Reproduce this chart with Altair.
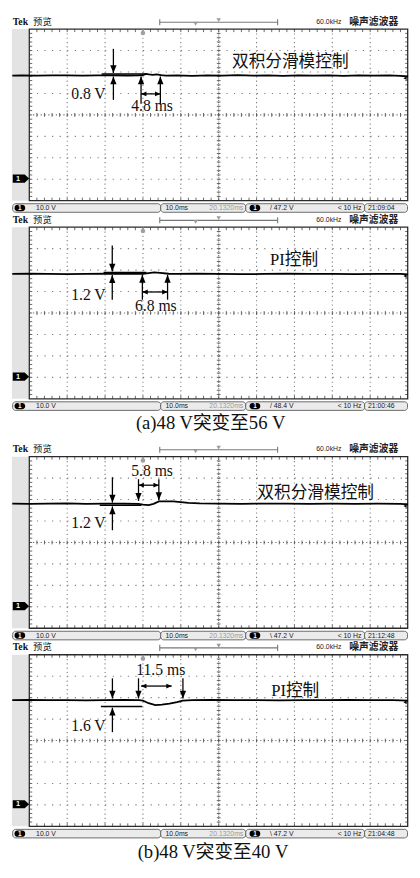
import altair as alt
import pandas as pd

# ================= values =================
# Every scope screen: 10 ms/div time base (trigger at 0 ms),
# 10 V/div with the channel-1 ground marker at 0 V.
T_LEFT, T_RIGHT = -30.0, 70.0
V_BOTTOM, V_TOP = -10.0, 70.0
GRID_T = [-20, -10, 0, 10, 30, 40, 50, 60]
CENTER_T = 20
GRID_V = [0, 10, 20, 40, 50, 60]
CENTER_V = 30

# output-voltage traces (ms, V)
P1_T = [-34.5, -32, -28, -24, -20, -16, -12, -8, -4, -1, 0, 0.8, 1.6, 2.6, 3.6, 4.8, 6, 9, 13, 17,
        21, 25, 29, 33, 37, 41, 45, 49, 53, 57, 61, 65, 68, 70]
P1_V = [48.3, 48.4, 48.3, 48.4, 48.4, 48.3, 48.4, 48.4, 48.3, 48.4, 48.5, 49.1, 48.9, 48.7, 48.9, 48.5,
        48.3, 48.4, 48.2, 48.4, 48.3, 48.5, 48.3, 48.4, 48.2, 48.4, 48.3, 48.4, 48.2, 48.4, 48.3, 48.4,
        48.2, 47.9]
P2_T = [-34.5, -30, -25, -20, -15, -10, -5, -1, 0, 1.5, 3, 4.5, 6.8, 9, 14, 20, 26, 32, 38, 44,
        50, 56, 62, 68, 70]
P2_V = [48.2, 48.3, 48.2, 48.1, 48.2, 48.3, 48.2, 48.2, 48.3, 48.6, 48.9, 48.7, 48.3, 48.2, 48.3,
        48.2, 48.1, 48.2, 48.3, 48.2, 48.2, 48.1, 48.2, 48.2, 48.0]
P3_T = [-34.5, -30, -25, -20, -15, -10, -5, -1.2, 0, 1.5, 2.8, 4.2, 6, 8, 10, 12, 15, 20, 26, 32,
        38, 44, 50, 56, 62, 68, 70]
P3_V = [48.1, 48.0, 48.1, 48.2, 48.0, 48.1, 48.1, 48.0, 47.6, 47.4, 48.0, 49.1, 49.2, 49.1, 48.8,
        48.4, 48.2, 48.1, 48.0, 48.1, 48.1, 48.0, 48.1, 48.0, 48.1, 48.0, 47.8]
P4_T = [-34.5, -30, -25, -20, -15, -10, -5, -1, 0, 1.5, 3.3, 5, 7, 9, 10.5, 13, 18, 24, 30, 36,
        42, 48, 54, 60, 66, 70]
P4_V = [48.8, 48.9, 48.8, 48.8, 48.7, 48.8, 48.9, 48.8, 48.6, 47.4, 46.5, 46.7, 47.2, 47.9, 48.6,
        48.8, 48.9, 48.8, 48.8, 48.7, 48.8, 48.8, 48.9, 48.8, 48.8, 48.6]
TRACES_T = [P1_T, P2_T, P3_T, P4_T]
TRACES_V = [P1_V, P2_V, P3_V, P4_V]

CONTROL_NAMES = ["双积分滑模控制", "PI控制", "双积分滑模控制", "PI控制"]
NAME_T = [38.9, 39.9, 45.6, 40.2]
NAME_V = [54.4, 54.6, 53.0, 53.1]

DV_TEXT = ["0.8 V", "1.2 V", "1.2 V", "1.6 V"]
DV_T = [-14.4, -14.4, -14.4, -14.4]
DV_V = [39.8, 38.4, 38.9, 36.6]

DT_TEXT = ["4.8 ms", "6.8 ms", "5.8 ms", "11.5 ms"]
DT_T = [2.4, 3.4, 2.4, 4.7]
DT_V = [33.9, 33.4, 63.1, 62.7]

# short level marks (extreme of the transient)
REF_T1 = [-10.9, -10.4, -11.4, -11.1]
REF_T2 = [0.8, 0.9, -0.4, -0.2]
REF_V = [49.1, 48.9, 47.3, 45.9]

# vertical arrows: (panel, time, tail voltage, tip voltage)
V_ARROWS = [
    (0, -7.8, 60.8, 49.5), (0, -7.8, 37.0, 47.9), (0, -0.5, 35.2, 47.9), (0, 4.6, 35.2, 47.9),
    (1, -8.1, 61.5, 49.3), (1, -8.1, 36.2, 47.7), (1, -0.15, 36.2, 47.8), (1, 6.5, 36.2, 47.8),
    (2, -8.06, 60.4, 48.6), (2, -8.06, 35.7, 46.8), (2, -1.17, 59.5, 49.4), (2, 4.2, 59.5, 49.7),
    (3, -8.06, 59.0, 49.6), (3, -8.06, 33.9, 45.3), (3, -1.17, 59.0, 49.6), (3, 10.56, 59.0, 49.6),
]
# double-headed time arrows: (panel, start, end, voltage)
H_ARROWS = [(0, -0.5, 4.6, 39.8), (1, -0.15, 6.5, 39.8), (2, -1.17, 4.2, 56.7), (3, -0.5, 7.6, 55.4)]

VOLTS_DIV = ["10.0 V"] * 4
TIME_DIV = ["10.0ms"] * 4
H_POS = ["20.1320ms"] * 4
TRIGGER = ["/ 47.2 V", "/ 48.4 V", "\\ 47.2 V", "\\ 47.2 V"]
TRIG_FREQ = ["< 10 Hz"] * 4
CLOCK = ["21:09:04", "21:00:46", "21:12:48", "21:04:48"]
CAPTIONS = [None, "(a)48 V突变至56 V", None, "(b)48 V突变至40 V"]
CAPTION_T = [None, 17.9, None, 18.5]
CAPTION_V = [None, -21.4, None, -21.9]

# ================= layout =================
W = 404                     # whole chart width in px
TOTAL_H = 862               # whole chart height in px
X_DOM = [-34.59, 70.0]      # ms spanned by the picture width
REF_PX_PER_V = 2.1875
PANEL_TOP_V = [75.93, 76.4, 76.4, 76.4]
PANEL_SPAN = [201, 234, 202, 225]          # panel spans in reference pixels
KY = TOTAL_H / sum(PANEL_SPAN)

DOWN_HEAD = "M-0.4,-1L0.4,-1L0,0Z"
UP_HEAD = "M-0.4,1L0.4,1L0,0Z"
LEFT_HEAD = "M1,-0.45L1,0.45L0,0Z"
RIGHT_HEAD = "M-1,-0.45L-1,0.45L0,0Z"
GROUND = "M-1,-0.5L0.45,-0.5L1,0L0.45,0.5L-1,0.5Z"

SERIF = "Liberation Serif, Noto Sans CJK SC"
SANS = "Liberation Sans"
CJK = "Noto Sans CJK SC"


def panel(i):
    span = PANEL_SPAN[i]
    top = PANEL_TOP_V[i]
    xs = alt.Scale(domain=X_DOM, nice=False, zero=False)
    ys = alt.Scale(domain=[top - span / REF_PX_PER_V, top], nice=False, zero=False)

    def X(f):
        return alt.X(f, type="quantitative", scale=xs, axis=None)

    def Y(f):
        return alt.Y(f, type="quantitative", scale=ys, axis=None)

    def rect(rows, **kw):
        return alt.Chart(pd.DataFrame(rows)).mark_rect(**kw).encode(
            x=X("t"), x2=alt.X2("t2"), y=Y("v"), y2=alt.Y2("v2"))

    def rule(rows, **kw):
        return alt.Chart(pd.DataFrame(rows)).mark_rule(**kw).encode(
            x=X("t"), x2=alt.X2("t2"), y=Y("v"), y2=alt.Y2("v2"))

    def text(rows, **kw):
        return alt.Chart(pd.DataFrame(rows)).mark_text(**kw).encode(
            x=X("t"), y=Y("v"), text=alt.Text("s:N"))

    def pts(rows, **kw):
        return alt.Chart(pd.DataFrame(rows)).mark_point(
            filled=True, opacity=1, strokeWidth=0, **kw).encode(x=X("t"), y=Y("v"))

    L = []
    # left gray strip and graticule
    L.append(rect([dict(t=X_DOM[0], t2=T_LEFT, v=V_BOTTOM, v2=V_TOP)], color="#e3e3e3"))
    L.append(rule([dict(t=T_LEFT, t2=T_RIGHT, v=v, v2=v) for v in GRID_V],
                  color="#7c7c7c", strokeWidth=1.1, strokeDash=[1.2, 6.53]))
    L.append(rule([dict(t=t, t2=t, v=V_TOP, v2=V_BOTTOM) for t in GRID_T],
                  color="#7c7c7c", strokeWidth=1.1, strokeDash=[1.2, 3.175]))
    L.append(rule([dict(t=CENTER_T, t2=CENTER_T, v=V_TOP, v2=V_BOTTOM)],
                  color="#707070", strokeWidth=1.1, strokeDash=[1.1, 1.09]))
    L.append(rule([dict(t=T_LEFT, t2=T_RIGHT, v=CENTER_V, v2=CENTER_V)],
                  color="#707070", strokeWidth=1.1, strokeDash=[1.2, 2.66]))
    ticks = []
    for k in range(1, 50):
        t = T_LEFT + 2 * k
        ticks.append(dict(t=t, t2=t, v=V_TOP, v2=V_TOP - 1.4))
        ticks.append(dict(t=t, t2=t, v=V_BOTTOM, v2=V_BOTTOM + 1.4))
        ticks.append(dict(t=t, t2=t, v=CENTER_V - 0.9, v2=CENTER_V + 0.9))
    for k in range(1, 40):
        v = V_BOTTOM + 2 * k
        ticks.append(dict(t=T_LEFT, t2=T_LEFT + 0.77, v=v, v2=v))
        ticks.append(dict(t=T_RIGHT - 0.77, t2=T_RIGHT, v=v, v2=v))
        ticks.append(dict(t=CENTER_T - 0.5, t2=CENTER_T + 0.5, v=v, v2=v))
    L.append(rule(ticks, color="#555555", strokeWidth=0.9))
    L.append(rect([dict(t=T_LEFT, t2=T_RIGHT - 0.1, v=V_BOTTOM, v2=V_TOP)],
                  fillOpacity=0, stroke="#2a2a2a", strokeWidth=1.3))

    # trigger position pin and ground marker
    L.append(rule([dict(t=0, t2=0, v=V_TOP, v2=68.4)], color="#9a9a9a", strokeWidth=1.5))
    L.append(pts([dict(t=0, v=68.2)], color="#a0a0a0", size=22, shape="circle"))
    L.append(pts([dict(t=-32.2, v=0.3)], color="black", size=280, shape=GROUND))
    L.append(text([dict(t=-33.0, v=0.3, s="1")], color="white", fontSize=7.5, fontWeight="bold",
                  font=SANS, align="center", baseline="middle"))

    # trace
    tr = pd.DataFrame({"t": TRACES_T[i], "v": TRACES_V[i]})
    L.append(alt.Chart(tr).mark_line(color="black", strokeWidth=1.8).encode(x=X("t"), y=Y("v")))
    L.append(pts([dict(t=69.2, v=TRACES_V[i][-1] - 0.8)], color="black", size=14, shape="triangle-left"))

    # annotations
    L.append(rule([dict(t=REF_T1[i], t2=REF_T2[i], v=REF_V[i], v2=REF_V[i])],
                  color="black", strokeWidth=1.5))
    va = [a for a in V_ARROWS if a[0] == i]
    L.append(rule([dict(t=a[1], t2=a[1], v=a[2], v2=a[3]) for a in va], color="black", strokeWidth=1.3))
    downs = [dict(t=a[1], v=a[3]) for a in va if a[2] > a[3]]
    ups = [dict(t=a[1], v=a[3]) for a in va if a[2] < a[3]]
    if downs:
        L.append(pts(downs, color="black", size=256, shape=DOWN_HEAD))
    if ups:
        L.append(pts(ups, color="black", size=256, shape=UP_HEAD))
    ha = [a for a in H_ARROWS if a[0] == i]
    L.append(rule([dict(t=a[1], t2=a[2], v=a[3], v2=a[3]) for a in ha], color="black", strokeWidth=1.3))
    L.append(pts([dict(t=a[1], v=a[3]) for a in ha], color="black", size=121, shape=LEFT_HEAD))
    L.append(pts([dict(t=a[2], v=a[3]) for a in ha], color="black", size=121, shape=RIGHT_HEAD))

    L.append(text([dict(t=NAME_T[i], v=NAME_V[i], s=CONTROL_NAMES[i])], font=SERIF, fontSize=17,
                  color="#111111", align="center", baseline="middle"))
    L.append(text([dict(t=DV_T[i], v=DV_V[i], s=DV_TEXT[i]), dict(t=DT_T[i], v=DT_V[i], s=DT_TEXT[i])],
                  font=SERIF, fontSize=16, color="#111111", align="center", baseline="middle"))

    # header row
    HV = 73.45
    L.append(text([dict(t=-34.4, v=HV, s="Tek")], font=SERIF, fontWeight="bold", fontSize=10,
                  align="left", baseline="middle", color="#111111"))
    L.append(text([dict(t=-29.0, v=HV, s="预览")], font=CJK, fontSize=9.5,
                  align="left", baseline="middle", color="#222222"))
    L.append(text([dict(t=45.77, v=HV, s="60.0kHz")], font=SANS, fontSize=7,
                  align="left", baseline="middle", color="#222222"))
    L.append(text([dict(t=60.94, v=HV, s="噪声滤波器")], font=CJK, fontSize=10, fontWeight="bold",
                  align="center", baseline="middle", color="#222222"))
    L.append(rule([dict(t=4.44, t2=35.56, v=73.2, v2=73.2),
                   dict(t=4.44, t2=4.44, v=74.6, v2=71.8),
                   dict(t=35.56, t2=35.56, v=74.6, v2=71.8)], color="#777777", strokeWidth=1.1))
    L.append(pts([dict(t=13.9, v=72.5), dict(t=20.0, v=74.2)], color="#9a9a9a", size=20,
                 shape="triangle-down"))

    # status bar
    SV = -13.4
    seg = [(-34.4, 4.69), (4.69, 27.14), (27.14, 58.52), (58.52, 69.85)]
    L.append(rect([dict(t=a, t2=b, v=-11.4, v2=-15.4) for a, b in seg], fill="#ebebeb",
                  stroke="#5a5a5a", strokeWidth=0.9, cornerRadius=3))
    L.append(rect([dict(t=-33.9, t2=-31.1, v=-11.9, v2=-14.9), dict(t=28.16, t2=30.97, v=-11.9, v2=-14.9)],
                  color="black", cornerRadius=3))
    L.append(text([dict(t=-32.5, v=SV, s="1"), dict(t=29.56, v=SV, s="1")], color="white",
                  fontSize=6.5, fontWeight="bold", font=SANS, align="center", baseline="middle"))
    L.append(text([dict(t=-28.21, v=SV, s=VOLTS_DIV[i]), dict(t=5.97, v=SV, s=TIME_DIV[i]),
                   dict(t=33.52, v=SV, s=TRIGGER[i]), dict(t=59.4, v=SV, s=CLOCK[i])],
                  font=SANS, fontSize=7, color="#1a1a1a", align="left", baseline="middle"))
    L.append(text([dict(t=57.7, v=SV, s=TRIG_FREQ[i])],
                  font=SANS, fontSize=7, color="#1a1a1a", align="right", baseline="middle"))
    L.append(text([dict(t=26.5, v=SV, s=H_POS[i])],
                  font=SANS, fontSize=7, color="#9a9a9a", align="right", baseline="middle"))

    if CAPTIONS[i]:
        L.append(text([dict(t=CAPTION_T[i], v=CAPTION_V[i], s=CAPTIONS[i])], font=SERIF, fontSize=19,
                      color="#111111", align="center", baseline="middle"))

    return alt.layer(*L).properties(width=W, height=span * KY)


chart = alt.vconcat(*[panel(i) for i in range(4)], spacing=0, bounds="flush").properties(
    padding=0, background="white").configure_view(stroke=None)

chart.save("out.html", embed_options={"renderer": "svg", "actions": False})
